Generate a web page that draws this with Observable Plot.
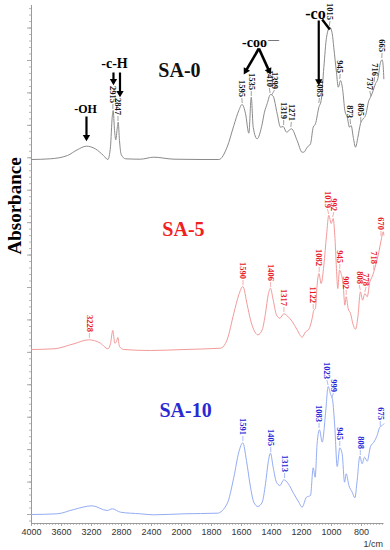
<!DOCTYPE html>
<html><head><meta charset="utf-8">
<script src="https://cdn.jsdelivr.net/npm/d3@7"></script>
<script src="https://cdn.jsdelivr.net/npm/@observablehq/plot@0.6"></script>
<style>body{margin:0;background:#fff}#chart svg{display:block;background:#fff}</style>
</head><body><div id="chart"></div>
<script>
// ---- data ----
const series = ["SA-0", "SA-5", "SA-10"];
const offsets = [355, 165, 0];   // vertical stacking offsets (a.u.)

const wnSA0 = [4000, 3750, 3520, 3390, 3267, 3150, 3040, 2982, 2947, 2924, 2911, 2893, 2876, 2858, 2844, 2827, 2804, 2747, 2550, 2370, 2100, 1870, 1751, 1696, 1651, 1618, 1596, 1573, 1551, 1535, 1522, 1496, 1462, 1447, 1429, 1407, 1389, 1362, 1340, 1322, 1300, 1267, 1229, 1196, 1185, 1162, 1140, 1122, 1107, 1084, 1069, 1051, 1033, 1011, 995, 985, 967, 955, 940, 925, 911, 895, 880, 869, 855, 840, 824, 807, 789, 773, 751, 740, 722, 707, 691, 673, 662, 655, 651];
const absSA0 = [0, 0.7, 4, 9.7, 13.3, 10.7, 4, 0, 12.7, 42.3, 49, 29, 19.7, 30.7, 37.3, 19, 5, 0.7, 0.3, 2.3, 0.3, 0, 0, 12.3, 34, 49, 55, 45.7, 26.3, 62.3, 32.3, 20.7, 35.7, 47.3, 55.7, 65, 63.3, 45.7, 32.3, 33, 27.3, 30.7, 19, 7.3, 7.3, 12.3, 15.7, 32.3, 35.7, 52.3, 59, 92.3, 122.3, 132.3, 125.7, 112.3, 87.3, 72.3, 79, 69, 49, 42.3, 32.3, 34, 22.3, 12.3, 22.3, 35.7, 40.7, 44, 59, 62.3, 69, 75.7, 80.7, 97.3, 99.7, 92.3, 80.7];

const wnSA5 = [4000, 3700, 3436, 3236, 3080, 2982, 2947, 2916, 2889, 2867, 2849, 2827, 2769, 2413, 1984, 1740, 1696, 1651, 1618, 1591, 1562, 1540, 1518, 1491, 1462, 1440, 1422, 1407, 1389, 1367, 1344, 1318, 1291, 1262, 1229, 1196, 1173, 1151, 1129, 1118, 1107, 1096, 1084, 1069, 1051, 1033, 1018, 1002, 989, 978, 967, 958, 947, 936, 922, 911, 902, 889, 873, 858, 840, 824, 807, 793, 778, 762, 744, 729, 718, 700, 684, 669, 655, 651];
const absSA5 = [0, 0.7, 5.7, 9.7, 6.3, 0.7, 5.7, 19, 6.3, 8, 12, 3, 0, -1, 0, 1.3, 9.7, 36.3, 54.7, 63, 44.7, 29.7, 19.7, 14.7, 19.7, 36.3, 54.7, 61.3, 49.7, 34.7, 31.3, 35.7, 33, 28, 19.7, 12.3, 17.6, 20.3, 31, 39.3, 41, 64.3, 76, 66, 84.3, 114.3, 134.3, 126, 131, 114.3, 81, 61, 79.3, 76, 64.3, 44.3, 52.7, 41, 36, 26, 20.3, 32.7, 57.7, 49.3, 56, 52.7, 67.7, 72.7, 77.7, 87.7, 97.7, 109.3, 117.7, 114.3];

const wnSA10 = [4000, 3658, 3436, 3191, 2991, 2924, 2813, 2547, 2369, 1984, 1762, 1696, 1651, 1618, 1591, 1567, 1540, 1518, 1491, 1462, 1440, 1422, 1407, 1389, 1367, 1344, 1318, 1291, 1251, 1218, 1196, 1167, 1140, 1122, 1109, 1096, 1080, 1062, 1040, 1022, 1007, 993, 978, 962, 945, 929, 913, 902, 884, 862, 844, 829, 811, 796, 780, 762, 740, 718, 696, 678, 662, 651];
const absSA10 = [0, 0.7, 5, 8.7, 4, 5.7, 2.3, 0.7, -0.3, 0.7, 1.3, 10.7, 37.3, 62.3, 71.7, 54, 27.3, 12.3, 8, 12.3, 30.7, 52.3, 61.3, 47.3, 32.3, 29, 34.7, 31.3, 20.7, 12.3, 7.3, 17.3, 19, 46.7, 37.3, 70.7, 84.7, 72.3, 100.7, 128, 120.7, 114.7, 87.3, 48, 66.7, 60.7, 32.3, 40.7, 29, 22.3, 16.7, 34, 58.3, 50.7, 57.3, 53.3, 68, 72.3, 79, 87.3, 89, 90.7];

// peak labels: value, peak height, where the label sits (wavenumber)
const peaksSA0 = [2915, 2847, 1595, 1535, 1410, 1399, 1319, 1271, 1085, 1015, 945, 873, 805, 737, 716, 665];
const peakHSA0 = [49, 37, 55, 62, 65, 63, 33, 31, 55, 132, 79, 34, 36, 62, 76, 100];
const peakAtSA0 = [2915, 2847, 1598, 1535, 1414, 1380, 1319, 1268, 1080, 1010, 942, 876, 805, 745, 712, 663];
const peaksSA5 = [3228, 1590, 1406, 1317, 1122, 1082, 1019, 992, 945, 902, 808, 778, 718, 670];
const peakHSA5 = [10, 63, 61, 36, 39, 76, 134, 131, 79, 53, 58, 56, 78, 112];
const peakAtSA5 = [3228, 1590, 1406, 1317, 1122, 1082, 1027, 985, 945, 902, 815, 770, 718, 670];
const peaksSA10 = [1591, 1405, 1313, 1083, 1023, 999, 945, 808, 675];
const peakHSA10 = [72, 61, 35, 85, 128, 115, 67, 58, 87];
const peakAtSA10 = [1591, 1405, 1313, 1083, 1031, 987, 945, 808, 675];

// titles (wavenumber, height above own baseline)
const titleWn = [2027, 1987, 1973];
const titleH = [89, 120, 104];

// group annotations on SA-0 (wavenumber, height above SA-0 baseline)
const groupText = ["-OH", "-c-H", "-coo", "-co"];
const groupWn = [3280, 2893, 1513, 1107];
const groupH = [50.5, 95.5, 116.5, 146];
const groupSize = [12, 14, 14, 16];
const arrowFromWn = [3267, 2907, 2820, 1085];
const arrowFromH = [43, 87, 87, 139];
const arrowToH = [22, 78, 66, 78];      // shaft end (vertical arrows)
const headH = [22.4, 78.4, 66.4, 78.2]; // arrow-head centres
const cooFrom = [1484, 111];
const cooHeadWn = [1571, 1417];
const cooHeadH = [88.7, 88.9];
const coSlash = [[1062, 140], [1011, 130]];

const xTicks = [4000, 3600, 3200, 2800, 2400, 2000, 1800, 1600, 1400, 1200, 1000, 800];

// ---- build tables ----
const colors = ["#8a8a8a", "#f39a9a", "#94acf3"];
const textColors = ["#111111", "#e8161e", "#2424d8"];
const titleColors = ["#111111", "#f0201e", "#2a2ad2"];
const curves = [[wnSA0, absSA0], [wnSA5, absSA5], [wnSA10, absSA10]];
const table = [];
curves.forEach(([w, a], i) => w.forEach((x, j) => table.push({series: series[i], wn: x, y: a[j] + offsets[i]})));
const peakSets = [[peaksSA0, peakHSA0, peakAtSA0], [peaksSA5, peakHSA5, peakAtSA5], [peaksSA10, peakHSA10, peakAtSA10]];
const labels = [];
peakSets.forEach(([p, h, at], i) => p.forEach((v, j) => labels.push({series: series[i], text: String(v), wn: v, at: at[j], y: h[j] + offsets[i]})));
const titles = series.map((s, i) => ({series: s, wn: titleWn[i], y: titleH[i] + offsets[i]}));
const o0 = offsets[0];
const groups = groupText.map((t, i) => ({text: t, wn: groupWn[i], y: groupH[i] + o0, size: groupSize[i]}));
const vArrows = arrowFromWn.map((w, i) => ({wn: w, y1: arrowFromH[i] + o0, y2: arrowToH[i] + o0, yh: headH[i] + o0}));

const yUnit = 32.43;
const yMajor = d3.range(0, 16).map(k => k * yUnit);
const yMinor = d3.range(-1, 79).map(k => k * yUnit / 5);
const xMinor = d3.range(4000, 2000, -40).concat(d3.range(2000, 640, -20));

const serif = "'Liberation Serif', 'Times New Roman', serif";
const sans = "'Liberation Sans', Arial, sans-serif";

const chart = Plot.plot({
  width: 390, height: 550,
  marginLeft: 31, marginRight: 6.5, marginTop: 5, marginBottom: 27,
  style: {fontFamily: sans, background: "#fff"},
  x: {type: "linear", domain: [4000, 2000, 650], range: [31, 181, 383.5]},
  y: {domain: [-9, 509]},
  color: {domain: series, range: colors},
  marks: [
    // axes
    Plot.axisY(yMinor, {tickSize: 2, stroke: "#b8b8b8", tickFormat: () => "", label: null}),
    Plot.axisY(yMajor, {tickSize: 4, stroke: "#a8a8a8", tickFormat: () => "", label: null}),
    Plot.axisX(xMinor, {tickSize: 2, stroke: "#c0c0c0", tickFormat: () => "", label: null}),
    Plot.axisX(xTicks, {tickSize: 3, tickPadding: 2, stroke: "#a8a8a8", fill: "#333", fontSize: 9, tickFormat: d => String(d), label: null}),
    Plot.ruleY([-9], {stroke: "#9a9a9a"}),
    Plot.ruleX([4000], {stroke: "#9a9a9a"}),
    // spectra
    Plot.line(table, {x: "wn", y: "y", z: "series", stroke: "series", strokeWidth: 1, curve: "monotone-x"}),
    // peak leaders and labels
    Plot.link(labels, {x1: "wn", x2: "at", y1: d => d.y + 1.5, y2: d => d.y + 6.5, stroke: "series", strokeWidth: 0.8}),
    Plot.text(labels, {x: "at", y: d => d.y + 7.5, text: "text", rotate: 90, textAnchor: "end", lineAnchor: "middle",
      fill: d => textColors[series.indexOf(d.series)], fontSize: 8.5, fontFamily: serif, fontWeight: "bold"}),
    // titles
    Plot.text(titles, {x: "wn", y: "y", text: "series", fill: d => titleColors[series.indexOf(d.series)],
      fontSize: 20, fontWeight: "bold", fontFamily: serif, lineAnchor: "middle"}),
    // group annotations
    Plot.text(groups, {x: "wn", y: "y", text: "text", fontSize: d => d.size, fontWeight: "bold", fontFamily: serif, fill: "#000", lineAnchor: "middle"}),
    Plot.text(["—"], {x: 1387, y: 119.7 + o0, text: d => d, fontSize: 11, fontWeight: "bold", fontFamily: serif, fill: "#000", lineAnchor: "middle"}),
    Plot.link(vArrows, {x1: "wn", x2: "wn", y1: "y1", y2: "y2", stroke: "#000", strokeWidth: 2.2}),
    Plot.dot(vArrows, {x: "wn", y: "yh", symbol: "triangle2", r: 3.5, rotate: 180, fill: "#000", stroke: null}),
    Plot.link(cooHeadWn, {x1: cooFrom[0], y1: cooFrom[1] + o0, x2: d => d, y2: (d, i) => cooHeadH[i] + o0, stroke: "#000", strokeWidth: 2.6}),
    Plot.dot([0], {x: cooHeadWn[0], y: cooHeadH[0] + o0, symbol: "triangle2", r: 3.5, rotate: 210, fill: "#000", stroke: null}),
    Plot.dot([1], {x: cooHeadWn[1], y: cooHeadH[1] + o0, symbol: "triangle2", r: 3.5, rotate: 155, fill: "#000", stroke: null}),
    Plot.link([coSlash], {x1: d => d[0][0], y1: d => d[0][1] + o0, x2: d => d[1][0], y2: d => d[1][1] + o0, stroke: "#000", strokeWidth: 2.4}),
    // axis titles
    Plot.text(["Absorbance"], {frameAnchor: "left", text: d => d, rotate: -90, dx: -16.5, dy: -10, fontSize: 19, fontWeight: "bold", fontFamily: serif, fill: "#000", lineAnchor: "middle"}),
    Plot.text(["1/cm"], {frameAnchor: "bottom-right", text: d => d, dy: 21, dx: -1, textAnchor: "end", fontSize: 9, fontFamily: sans, fill: "#333", lineAnchor: "middle"})
  ]
});
document.getElementById("chart").append(chart);
</script>
</body></html>
